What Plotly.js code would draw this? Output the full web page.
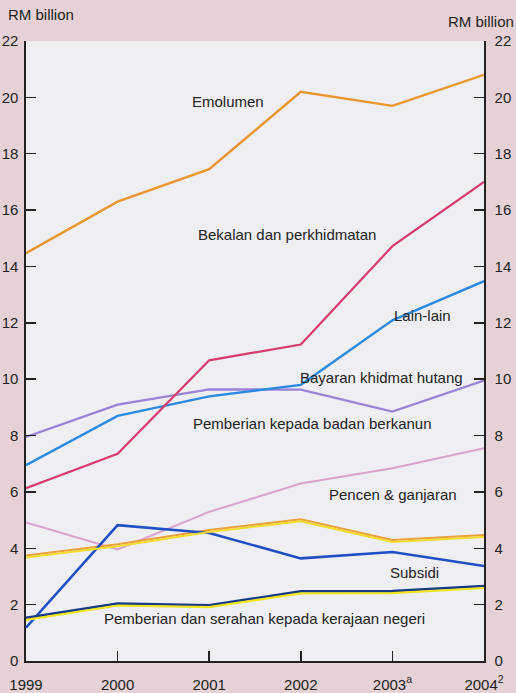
<!DOCTYPE html>
<html>
<head>
<meta charset="utf-8">
<script src="https://cdn.plot.ly/plotly-3.0.1.min.js"></script>
<style>
html,body{margin:0;padding:0;background:#e6d2d6;}
#chart{width:516px;height:693px;}
</style>
</head>
<body>
<div id="chart"></div>
<script>
// Data (RM billion)
const years = [1999, 2000, 2001, 2002, 2003, 2004];
const yearLabels = ['1999', '2000', '2001', '2002', '2003<sup>a</sup>', '2004<sup>2</sup>'];
const yTicks = [0, 2, 4, 6, 8, 10, 12, 14, 16, 18, 20, 22];

const emolumen = [14.47, 16.3, 17.45, 20.2, 19.7, 20.8];
const bekalan = [6.13, 7.35, 10.67, 11.23, 14.72, 17.0];
const lainLain = [6.95, 8.7, 9.39, 9.8, 12.09, 13.48];
const bayaranHutang = [7.95, 9.1, 9.64, 9.63, 8.85, 9.95];
const badanBerkanun = [4.92, 3.96, 5.29, 6.3, 6.84, 7.55];
const pencen = [3.74, 4.14, 4.65, 5.03, 4.29, 4.47];
const subsidi = [1.18, 4.82, 4.54, 3.64, 3.87, 3.37];
const serahanNegeri = [1.53, 2.04, 1.98, 2.47, 2.48, 2.66];

const seriesNames = [
  'Emolumen',
  'Bekalan dan perkhidmatan',
  'Lain-lain',
  'Bayaran khidmat hutang',
  'Pemberian kepada badan berkanun',
  'Pencen & ganjaran',
  'Subsidi',
  'Pemberian dan serahan kepada kerajaan negeri'
];

const FONT = 'Liberation Sans, Arial, Helvetica, sans-serif';
const TXT = '#222222';

function line(y, color, width, yaxis, name) {
  return {
    x: years, y: y, type: 'scatter', mode: 'lines', name: name || '',
    yaxis: yaxis || 'y',
    line: {color: color, width: width || 2.2},
    hoverinfo: 'skip', showlegend: false
  };
}

const traces = [
  line(pencen, '#f2dc2a', 2.0, 'y3'),
  line(serahanNegeri, '#f0e41e', 2.2, 'y3'),
  line(badanBerkanun, '#d9a2cc', 2.0, 'y', seriesNames[4]),
  line(pencen, '#eba03a', 2.0, 'y', seriesNames[5]),
  line(bayaranHutang, '#9a82d6', 2.4, 'y', seriesNames[3]),
  line(lainLain, '#2b8ae0', 2.4, 'y', seriesNames[2]),
  line(bekalan, '#d83a6c', 2.2, 'y', seriesNames[1]),
  line(emolumen, '#e8962e', 2.4, 'y2', seriesNames[0]),
  line(subsidi, '#1f4fc4', 2.6, 'y', seriesNames[6]),
  line(serahanNegeri, '#173a86', 2.6, 'y', seriesNames[7])
];

const L = 26, R = 484, T = 41, B = 661;
function px(xp) { return (xp - L) / (R - L); }
function py(yp) { return (B - yp) / (B - T); }

const labelPos = [
  [227.5, 101], [286.5, 234], [422.5, 315], [381.5, 378],
  [312.5, 423], [393, 495], [414, 572], [264, 618]
];

const annotations = seriesNames.map((n, i) => ({
  text: n, xref: 'paper', yref: 'paper',
  x: px(labelPos[i][0]), y: py(labelPos[i][1]),
  xanchor: 'center', yanchor: 'middle', showarrow: false,
  font: {family: FONT, size: 15, color: TXT}
}));
annotations.push({
  text: 'RM billion', xref: 'paper', yref: 'paper',
  x: px(40.5), y: py(15), xanchor: 'center', yanchor: 'middle', showarrow: false,
  font: {family: FONT, size: 15, color: TXT}
});
annotations.push({
  text: 'RM billion', xref: 'paper', yref: 'paper',
  x: px(480.5), y: py(22), xanchor: 'center', yanchor: 'middle', showarrow: false,
  font: {family: FONT, size: 15, color: TXT}
});

const yax = {
  range: [0, 22], tickvals: yTicks, ticks: 'inside', ticklen: 10, tickwidth: 1.5,
  tickcolor: '#222', showline: true, linecolor: '#222', linewidth: 1.6,
  showgrid: false, zeroline: false, fixedrange: true,
  tickfont: {family: FONT, size: 15, color: TXT}
};

const layout = {
  width: 516, height: 693,
  margin: {l: L, r: 516 - R, t: T, b: 693 - B, pad: 0},
  paper_bgcolor: '#e6d2d6',
  plot_bgcolor: '#efeff3',
  showlegend: false,
  xaxis: {
    range: [1999, 2004], tickvals: years, ticktext: yearLabels,
    ticks: 'inside', ticklen: 10, tickwidth: 1.5, tickcolor: '#222',
    showline: true, linecolor: '#222', linewidth: 1.6,
    showgrid: false, zeroline: false, fixedrange: true,
    ticklabelstandoff: 9,
    tickfont: {family: FONT, size: 15, color: TXT}
  },
  yaxis: Object.assign({}, yax, {side: 'left', ticklabelstandoff: 3}),
  yaxis2: Object.assign({}, yax, {side: 'right', overlaying: 'y', ticklabelstandoff: 6}),
  yaxis3: {range: [0.07, 22.07], overlaying: 'y', visible: false, fixedrange: true},
  annotations: annotations
};

Plotly.newPlot('chart', traces, layout, {displayModeBar: false, staticPlot: true});
</script>
</body>
</html>
